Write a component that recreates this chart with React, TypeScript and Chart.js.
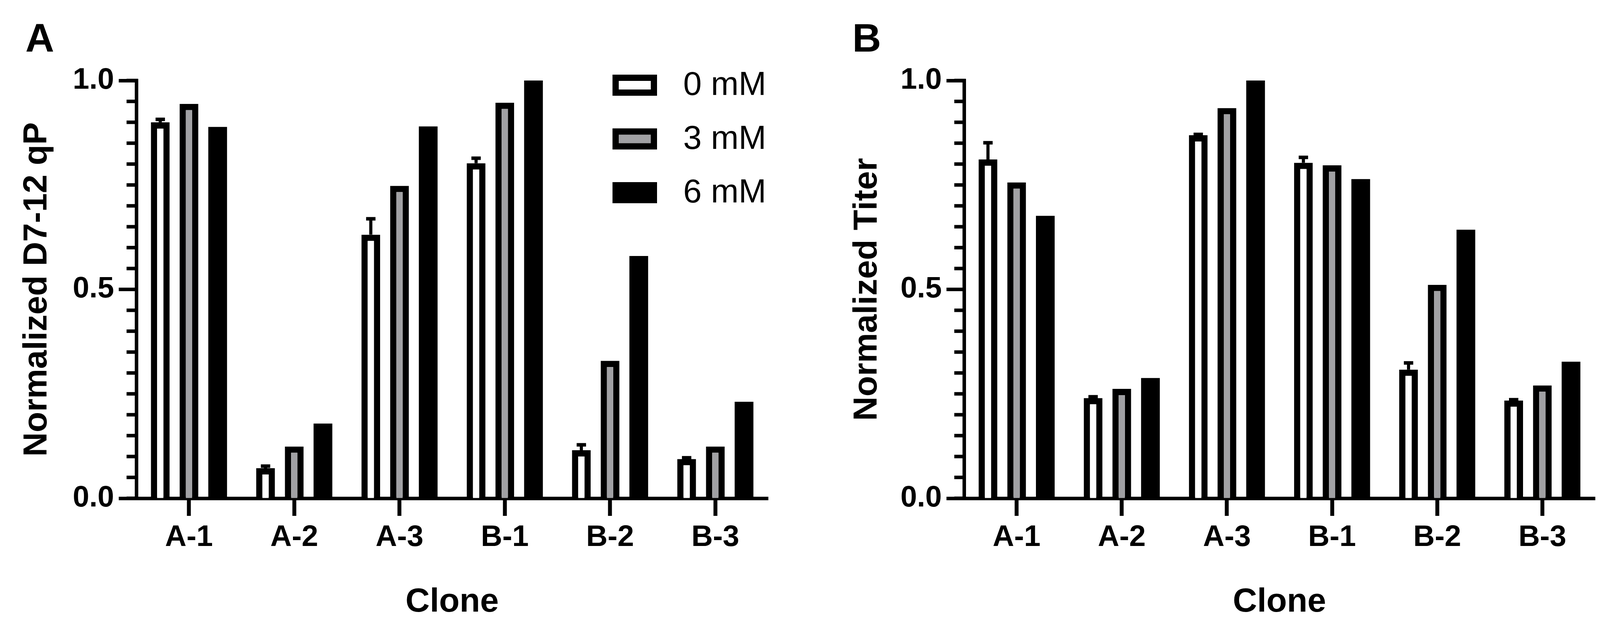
import React, { useEffect, useRef } from 'react';
import { Chart, registerables } from 'chart.js';

Chart.register(...registerables);

// ---------- data ----------
const CLONES = ['A-1', 'A-2', 'A-3', 'B-1', 'B-2', 'B-3'];
const SERIES_LABELS = ['0 mM', '3 mM', '6 mM'];
const Y_TICKS = [0, 0.5, 1.0];
const MINOR_STEP = 0.05;

// Panel A: Normalized D7-12 qP
const QP_0MM = [0.900, 0.072, 0.631, 0.802, 0.115, 0.094];
const QP_0MM_ERR = [0.907, 0.077, 0.669, 0.814, 0.128, 0.097];
const QP_3MM = [0.944, 0.124, 0.748, 0.947, 0.329, 0.124];
const QP_6MM = [0.889, 0.179, 0.890, 1.000, 0.580, 0.231];

// Panel B: Normalized Titer
const TITER_0MM = [0.811, 0.240, 0.869, 0.803, 0.308, 0.234];
const TITER_0MM_ERR = [0.851, 0.243, 0.871, 0.816, 0.324, 0.236];
const TITER_3MM = [0.756, 0.262, 0.934, 0.797, 0.511, 0.270];
const TITER_6MM = [0.676, 0.288, 1.000, 0.764, 0.643, 0.327];

// ---------- styles ----------
const FILLS = ['#FFFFFF', '#A1A1A4', '#000000'];
const BORDERS = [16, 16, 0];
const FONT = '"Liberation Sans", Arial, Helvetica, sans-serif';
const H = 1612;

type PanelProps = {
  left: number;
  width: number;
  chartLeft: number;
  chartRight: number;
  titlePad: number;
  yTitle: string;
  series: number[][];
  errors: number[];
  showLegend: boolean;
};

function BarPanel(p: PanelProps) {
  const ref = useRef<HTMLCanvasElement | null>(null);

  useEffect(() => {
    if (!ref.current) return;

    const minorTicks = {
      id: 'minorTicks',
      afterDraw(chart: any) {
        const ys = chart.scales.y;
        const ctx = chart.ctx;
        const x0 = chart.chartArea.left;
        const n = Math.round((ys.max - ys.min) / MINOR_STEP);
        ctx.save();
        ctx.strokeStyle = '#000';
        ctx.lineWidth = 9;
        ctx.lineCap = 'butt';
        for (let i = 0; i <= n; i++) {
          const v = ys.min + i * MINOR_STEP;
          const py = ys.getPixelForValue(v);
          ctx.beginPath();
          ctx.moveTo(x0 - 25, py);
          ctx.lineTo(x0 + 4.5, py);
          ctx.stroke();
        }
        ctx.restore();
      },
    };

    const errorBars = {
      id: 'errorBars',
      afterDatasetsDraw(chart: any) {
        const ys = chart.scales.y;
        const meta = chart.getDatasetMeta(0);
        const ctx = chart.ctx;
        ctx.save();
        ctx.strokeStyle = '#000';
        ctx.lineCap = 'butt';
        meta.data.forEach((bar: any, i: number) => {
          const top = ys.getPixelForValue(p.series[0][i]);
          const e = ys.getPixelForValue(p.errors[i]);
          ctx.lineWidth = 8;
          ctx.beginPath();
          ctx.moveTo(bar.x, top);
          ctx.lineTo(bar.x, e);
          ctx.stroke();
          ctx.lineWidth = 9;
          ctx.beginPath();
          ctx.moveTo(bar.x - 12, e);
          ctx.lineTo(bar.x + 12, e);
          ctx.stroke();
        });
        ctx.restore();
      },
    };

    const boxLegend = {
      id: 'boxLegend',
      afterDraw(chart: any) {
        if (!p.showLegend) return;
        const ctx = chart.ctx;
        const area = chart.chartArea;
        const bx = area.right - 398;
        const bw = 114;
        const bh = 54;
        const rowGap = 137.5;
        ctx.save();
        chart.data.datasets.forEach((ds: any, i: number) => {
          const cy = area.top + 12 + i * rowGap;
          ctx.fillStyle = '#000';
          ctx.fillRect(bx, cy - bh / 2, bw, bh);
          const b = ds.borderWidth || 0;
          if (b > 0) {
            ctx.fillStyle = ds.backgroundColor;
            ctx.fillRect(bx + b, cy - bh / 2 + b, bw - 2 * b, bh - 2 * b);
          }
          ctx.fillStyle = '#000';
          ctx.font = `85px ${FONT}`;
          ctx.textAlign = 'left';
          ctx.textBaseline = 'middle';
          ctx.fillText(ds.label, bx + 181, cy + 2);
        });
        ctx.restore();
      },
    };

    const chart = new Chart(ref.current, {
      type: 'bar',
      data: {
        labels: CLONES,
        datasets: p.series.map((vals, i) => ({
          label: SERIES_LABELS[i],
          data: vals,
          backgroundColor: FILLS[i],
          borderColor: '#000000',
          borderWidth: BORDERS[i],
          borderSkipped: 'start',
          categoryPercentage: 0.818,
          barPercentage: 0.653,
        })),
      },
      options: {
        animation: false,
        responsive: true,
        maintainAspectRatio: false,
        devicePixelRatio: 1,
        layout: {
          padding: { left: 0, top: 206, right: p.width - p.chartRight, bottom: 0 },
        },
        plugins: {
          legend: { display: false },
          tooltip: { enabled: false },
        },
        scales: {
          x: {
            type: 'category',
            z: 1,
            offset: true,
            afterFit: (s: any) => {
              s.height = H - 1275;
            },
            grid: {
              display: true,
              offset: false,
              drawOnChartArea: false,
              drawTicks: true,
              tickLength: 45,
              tickWidth: 10,
              tickColor: '#000',
            },
            border: { display: true, width: 9, color: '#000' },
            ticks: {
              color: '#000',
              padding: 10,
              font: { family: FONT, size: 76, weight: 'bold' },
              maxRotation: 0,
              autoSkip: false,
            },
            title: {
              display: true,
              text: 'Clone',
              color: '#000',
              font: { family: FONT, size: 86, weight: 'bold' },
              padding: { top: 0, bottom: 19 },
            },
          },
          y: {
            type: 'linear',
            z: 1,
            min: 0,
            max: 1,
            afterFit: (s: any) => {
              s.width = p.chartLeft;
            },
            afterBuildTicks: (s: any) => {
              s.ticks = Y_TICKS.map((v) => ({ value: v }));
            },
            grid: {
              display: true,
              drawOnChartArea: false,
              drawTicks: true,
              tickLength: 45,
              tickWidth: 9,
              tickColor: '#000',
            },
            border: { display: true, width: 9, color: '#000' },
            ticks: {
              color: '#000',
              padding: 12,
              font: { family: FONT, size: 76, weight: 'bold' },
              callback: (v: any) => Number(v).toFixed(1),
            },
            title: {
              display: true,
              text: p.yTitle,
              color: '#000',
              font: { family: FONT, size: 86, weight: 'bold' },
              padding: { top: p.titlePad, bottom: 0 },
            },
          },
        },
      },
      plugins: [minorTicks, errorBars, boxLegend],
    } as any);

    return () => chart.destroy();
  }, []);

  return (
    <div
      style={{
        position: 'absolute',
        left: p.left,
        top: 0,
        width: p.width,
        height: H,
      }}
    >
      <canvas ref={ref} />
    </div>
  );
}

const panelLabel: React.CSSProperties = {
  position: 'absolute',
  top: 46,
  fontFamily: FONT,
  fontWeight: 'bold',
  fontSize: 102,
  lineHeight: 1,
  color: '#000',
};

export default function App() {
  return (
    <div
      style={{
        position: 'absolute',
        left: 0,
        top: 0,
        width: 4139,
        height: H,
        background: '#fff',
        overflow: 'hidden',
      }}
    >
      <BarPanel
        left={0}
        width={2070}
        chartLeft={349}
        chartRight={1966}
        titlePad={44}
        yTitle="Normalized D7-12 qP"
        series={[QP_0MM, QP_3MM, QP_6MM]}
        errors={QP_0MM_ERR}
        showLegend={true}
      />
      <BarPanel
        left={2070}
        width={2069}
        chartLeft={398}
        chartRight={2013}
        titlePad={99}
        yTitle="Normalized Titer"
        series={[TITER_0MM, TITER_3MM, TITER_6MM]}
        errors={TITER_0MM_ERR}
        showLegend={false}
      />
      <div style={{ ...panelLabel, left: 65 }}>A</div>
      <div style={{ ...panelLabel, left: 2182 }}>B</div>
    </div>
  );
}
